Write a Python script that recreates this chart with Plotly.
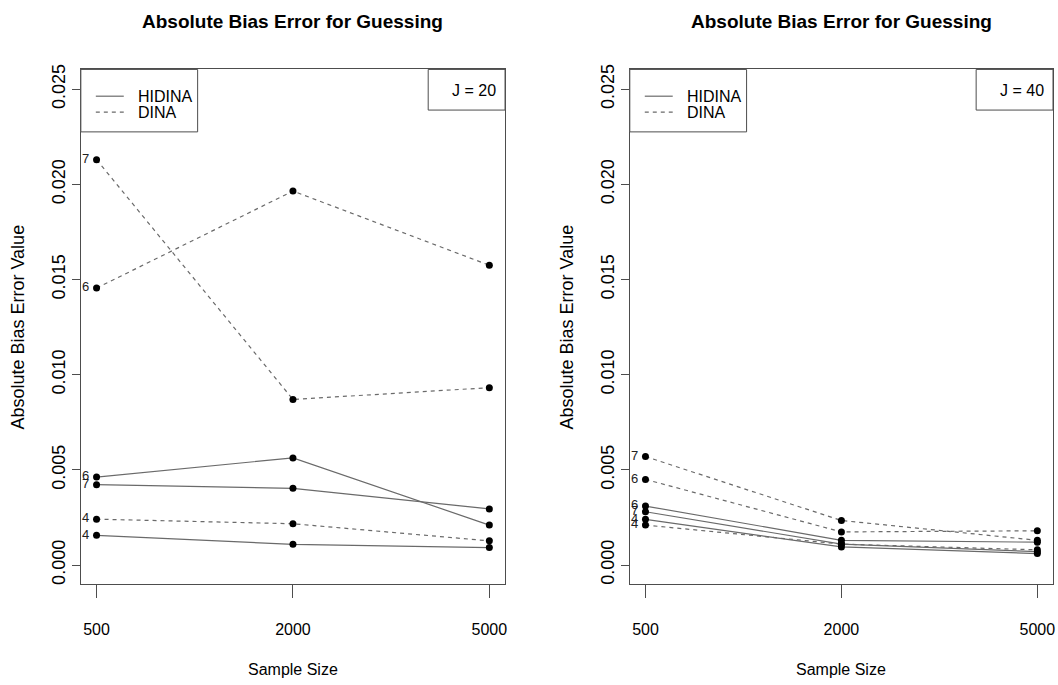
import plotly.graph_objects as go

# ---------------- data ----------------
sample_sizes = ["500", "2000", "5000"]
y_ticks = [0.000, 0.005, 0.010, 0.015, 0.020, 0.025]

# J = 20
j20_hidina_6 = [0.00462, 0.00563, 0.00210]
j20_hidina_7 = [0.00422, 0.00403, 0.00295]
j20_hidina_4 = [0.00156, 0.00109, 0.00092]
j20_dina_7 = [0.02130, 0.00870, 0.00932]
j20_dina_6 = [0.01455, 0.01965, 0.01575]
j20_dina_4 = [0.00241, 0.00217, 0.00127]

# J = 40
j40_hidina_6 = [0.00310, 0.00130, 0.00120]
j40_hidina_7 = [0.00280, 0.00110, 0.00070]
j40_hidina_4 = [0.00240, 0.00095, 0.00060]
j40_dina_7 = [0.00570, 0.00234, 0.00130]
j40_dina_6 = [0.00450, 0.00174, 0.00180]
j40_dina_4 = [0.00210, 0.00110, 0.00080]

series_labels = ["6", "7", "4"]
panel_titles = ["Absolute Bias Error for Guessing", "Absolute Bias Error for Guessing"]
panel_tags = ["J = 20", "J = 40"]
legend_names = ["HIDINA", "DINA"]
x_title = "Sample Size"
y_title = "Absolute Bias Error Value"

# ---------------- styling ----------------
W, H = 1058, 685
FONT = "Liberation Sans, Arial, sans-serif"
LINE_COL = "#6a6a6a"
FRAME_COL = "#4d4d4d"

panels = [
    dict(x0=81, x1=506,
         hidina=[j20_hidina_6, j20_hidina_7, j20_hidina_4],
         dina=[j20_dina_6, j20_dina_7, j20_dina_4]),
    dict(x0=631, x1=1055,
         hidina=[j40_hidina_6, j40_hidina_7, j40_hidina_4],
         dina=[j40_dina_6, j40_dina_7, j40_dina_4]),
]
TOP, BOTTOM = 65, 584


def px(x):
    return x / W


def py(y):
    return 1 - y / H


fig = go.Figure()
annotations = []
shapes = []

for i, p in enumerate(panels):
    xa = "x" if i == 0 else "x2"
    ya = "y" if i == 0 else "y2"
    groups = [(p["hidina"], None), (p["dina"], "4px,4px")]
    for series, dash in groups:
        for vals, lab in zip(series, series_labels):
            line = dict(color=LINE_COL, width=1.2)
            if dash:
                line["dash"] = dash
            fig.add_trace(go.Scatter(
                x=sample_sizes, y=vals, xaxis=xa, yaxis=ya, mode="lines+markers",
                line=line, marker=dict(color="black", size=7), showlegend=False))
            # point label to the left of the first point
            fig.add_trace(go.Scatter(
                x=[sample_sizes[0]], y=[vals[0]], xaxis=xa, yaxis=ya, mode="text",
                text=[lab + "  "], textposition="middle left",
                textfont=dict(family=FONT, size=13, color="#222"),
                showlegend=False, hoverinfo="skip", cliponaxis=False))

    x0, x1 = p["x0"], p["x1"]
    cx = (x0 + x1) / 2
    # titles
    annotations.append(dict(x=px(cx), y=py(17), xref="paper", yref="paper",
                            text="<b>" + panel_titles[i] + "</b>", showarrow=False,
                            xanchor="center", yanchor="middle",
                            font=dict(family=FONT, size=19, color="black")))
    annotations.append(dict(x=px(cx), y=py(670), xref="paper", yref="paper",
                            text=x_title, showarrow=False, xanchor="center", yanchor="middle",
                            font=dict(family=FONT, size=16, color="black")))
    annotations.append(dict(x=px(x0 - 63), y=py((TOP + BOTTOM) / 2), xref="paper", yref="paper",
                            text=y_title, showarrow=False, textangle=-90,
                            xanchor="center", yanchor="middle",
                            font=dict(family=FONT, size=18, color="black")))
    # legend box
    lx1 = x0 + 117
    shapes.append(dict(type="rect", xref="paper", yref="paper",
                       x0=px(x0), x1=px(lx1), y0=py(TOP), y1=py(128),
                       line=dict(color=FRAME_COL, width=1), fillcolor="white"))
    shapes.append(dict(type="line", xref="paper", yref="paper",
                       x0=px(x0 + 15), x1=px(x0 + 43), y0=py(92), y1=py(92),
                       line=dict(color=LINE_COL, width=1.2)))
    shapes.append(dict(type="line", xref="paper", yref="paper",
                       x0=px(x0 + 15), x1=px(x0 + 43), y0=py(108), y1=py(108),
                       line=dict(color=LINE_COL, width=1.2, dash="4px,4px")))
    annotations.append(dict(x=px(x0 + 55), y=py(92), xref="paper", yref="paper",
                            text=legend_names[0], showarrow=False, xanchor="left", yanchor="middle",
                            font=dict(family=FONT, size=16, color="black")))
    annotations.append(dict(x=px(x0 + 55), y=py(108), xref="paper", yref="paper",
                            text=legend_names[1], showarrow=False, xanchor="left", yanchor="middle",
                            font=dict(family=FONT, size=16, color="black")))
    # J box
    shapes.append(dict(type="rect", xref="paper", yref="paper",
                       x0=px(x1 - 77), x1=px(x1), y0=py(TOP), y1=py(106),
                       line=dict(color=FRAME_COL, width=1), fillcolor="white"))
    annotations.append(dict(x=px(x1 - 7), y=py(86), xref="paper", yref="paper",
                            text=panel_tags[i], showarrow=False, xanchor="right", yanchor="middle",
                            font=dict(family=FONT, size=16, color="black")))

axis_common_x = dict(type="category", categoryorder="array", categoryarray=sample_sizes,
                     range=[-0.08, 2.08], showgrid=False, zeroline=False,
                     showline=True, mirror=True, linecolor=FRAME_COL, linewidth=1,
                     ticks="outside", ticklen=13, tickcolor=FRAME_COL,
                     ticklabelstandoff=18,
                     tickfont=dict(family=FONT, size=16, color="black"))
axis_common_y = dict(range=[-0.00099, 0.02604], tickvals=y_ticks, tickformat=".3f",
                     showgrid=False, zeroline=False,
                     showline=True, mirror=True, linecolor=FRAME_COL, linewidth=1,
                     ticks="outside", ticklen=8, tickcolor=FRAME_COL, tickangle=-90,
                     tickfont=dict(family=FONT, size=18, color="black"))

fig.update_layout(
    width=W, height=H,
    margin=dict(l=0, r=0, t=0, b=0),
    paper_bgcolor="white", plot_bgcolor="white",
    showlegend=False,
    xaxis=dict(domain=[px(81), px(506)], anchor="y", **axis_common_x),
    xaxis2=dict(domain=[px(631), px(1055)], anchor="y2", **axis_common_x),
    yaxis=dict(domain=[py(BOTTOM), py(TOP)], anchor="x", **axis_common_y),
    yaxis2=dict(domain=[py(BOTTOM), py(TOP)], anchor="x2", **axis_common_y),
    annotations=annotations,
    shapes=shapes,
)

fig.write_html("out.html")
